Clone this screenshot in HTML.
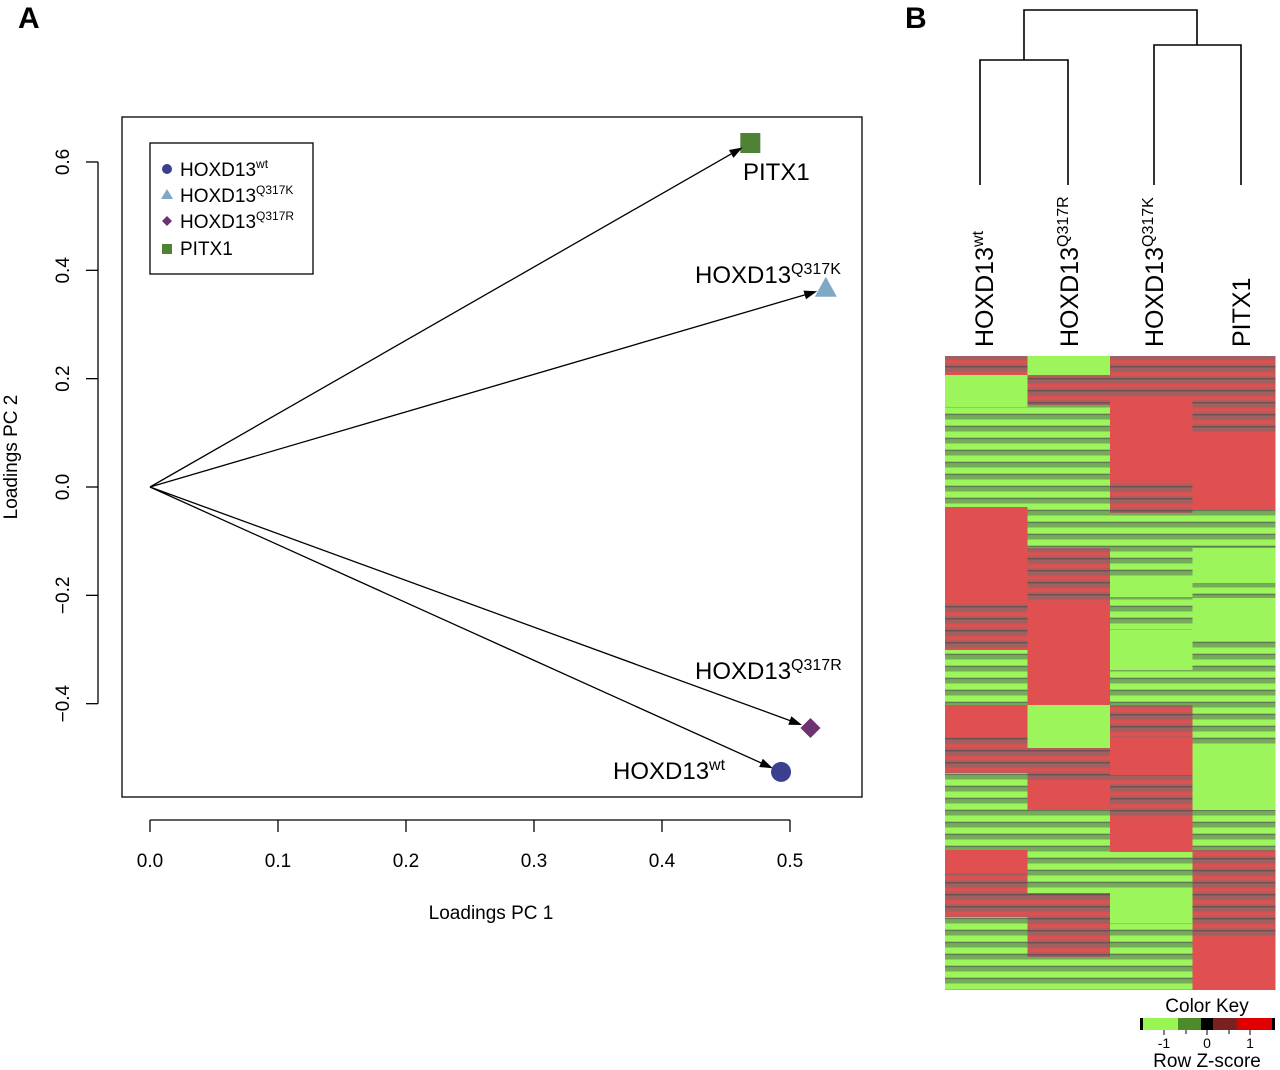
<!DOCTYPE html>
<html><head><meta charset="utf-8"><style>
body{margin:0;background:#fff}
svg{display:block;font-family:"Liberation Sans",Arial,sans-serif}
</style></head><body>
<svg id="fig" width="1280" height="1070" viewBox="0 0 1280 1070" xmlns="http://www.w3.org/2000/svg">
<defs>
<pattern id="pr" width="82" height="12" patternUnits="userSpaceOnUse"><rect width="82" height="12" fill="#b85a5a"/><rect y="0" width="82" height="4" fill="#d85252"/><rect y="6" width="82" height="1.5" fill="#6e5050"/><rect y="8" width="82" height="3" fill="#a06060"/></pattern>
<pattern id="pg" width="82" height="12" patternUnits="userSpaceOnUse"><rect width="82" height="12" fill="#88d058"/><rect y="0" width="82" height="5" fill="#9cf55a"/><rect y="6" width="82" height="1.5" fill="#607a55"/><rect y="8" width="82" height="3" fill="#74aa58"/></pattern>
</defs>
<text x="18" y="28" font-size="30" font-weight="bold">A</text>
<text x="905" y="28" font-size="30" font-weight="bold">B</text>
<rect x="122" y="117" width="740" height="680" fill="none" stroke="#000" stroke-width="1.3"/>
<g id="axes"></g><g id="arrows"></g>
<g>
<rect x="150" y="143" width="163" height="131" fill="#fff" stroke="#000" stroke-width="1.3"/>
<circle cx="167" cy="169" r="5" fill="#3b3f8f"/>
<text x="180" y="176" font-size="19">HOXD13<tspan font-size="12" dy="-8">wt</tspan></text>
<polygon points="167,189 173,199 161,199" fill="#7fa9c3"/>
<text x="180" y="202" font-size="19">HOXD13<tspan font-size="12" dy="-8">Q317K</tspan></text>
<polygon points="167,216 172,221 167,226 162,221" fill="#6e3272"/>
<text x="180" y="228" font-size="19">HOXD13<tspan font-size="12" dy="-8">Q317R</tspan></text>
<rect x="162" y="244" width="10" height="10" fill="#4f8234"/>
<text x="180" y="255" font-size="19">PITX1</text>
</g>
<text x="491" y="919" font-size="19" text-anchor="middle">Loadings PC 1</text>
<text transform="translate(17,457) rotate(-90)" font-size="19" text-anchor="middle">Loadings PC 2</text>
<g id="dendro" stroke="#000" stroke-width="1.6" fill="none">
<polyline points="980,185 980,60 1068,60 1068,185"/>
<polyline points="1154,185 1154,45 1241,45 1241,185"/>
<polyline points="1024,60 1024,10 1197,10 1197,45"/>
</g>
<g font-size="25">
<text transform="translate(993,347) rotate(-90)">HOXD13<tspan font-size="16" dy="-10">wt</tspan></text>
<text transform="translate(1078,347) rotate(-90)">HOXD13<tspan font-size="16" dy="-10">Q317R</tspan></text>
<text transform="translate(1163,347) rotate(-90)">HOXD13<tspan font-size="16" dy="-10">Q317K</tspan></text>
<text transform="translate(1250,347) rotate(-90)">PITX1</text>
</g>
<g id="heat"></g>
<g>
<text x="1207" y="1012" font-size="19" text-anchor="middle">Color Key</text>
<rect x="1140" y="1018" width="3" height="12" fill="#000"/>
<rect x="1143" y="1018" width="35" height="12" fill="#99f550"/>
<rect x="1178" y="1018" width="23" height="12" fill="#4d8a2a"/>
<rect x="1201" y="1018" width="12" height="12" fill="#000"/>
<rect x="1213" y="1018" width="24" height="12" fill="#7a2020"/>
<rect x="1237" y="1018" width="35" height="12" fill="#e00000"/>
<rect x="1272" y="1018" width="3" height="12" fill="#000"/>
<g stroke="#000" stroke-width="1"><line x1="1164" y1="1030" x2="1164" y2="1035"/><line x1="1186" y1="1030" x2="1186" y2="1034"/><line x1="1207" y1="1030" x2="1207" y2="1035"/><line x1="1229" y1="1030" x2="1229" y2="1034"/><line x1="1250" y1="1030" x2="1250" y2="1035"/></g>
<text x="1164" y="1048" font-size="14" text-anchor="middle">-1</text>
<text x="1207" y="1048" font-size="14" text-anchor="middle">0</text>
<text x="1250" y="1048" font-size="14" text-anchor="middle">1</text>
<text x="1207" y="1067" font-size="19" text-anchor="middle">Row Z-score</text>
</g>
</svg>
<script>
const ns="http://www.w3.org/2000/svg";
const xTicks=[0.0,0.1,0.2,0.3,0.4,0.5];
const yTicks=[-0.4,-0.2,0.0,0.2,0.4,0.6];
const sampleNames=["HOXD13wt","HOXD13Q317K","HOXD13Q317R","PITX1"];
const pc1=[0.493,0.528,0.516,0.469];
const pc2=[-0.526,0.366,-0.445,0.635];
const X=v=>150+v*1280, Y=v=>487-v*541.7;
function mk(t,a,p){const e=document.createElementNS(ns,t);for(const k in a)e.setAttribute(k,a[k]);(p||document.getElementById('fig')).appendChild(e);return e;}
const ax=document.getElementById('axes');
let xl=mk('line',{x1:X(0),y1:820,x2:X(0.5),y2:820,stroke:'#000','stroke-width':1.3},ax);


xTicks.forEach(v=>{mk('line',{x1:X(v),y1:820,x2:X(v),y2:832,stroke:'#000','stroke-width':1.3},ax);
 const t=mk('text',{x:X(v),y:867,'font-size':19,'text-anchor':'middle'},ax);t.textContent=v.toFixed(1);
 
 });
let yl=mk('line',{x1:98,y1:Y(-0.4),x2:98,y2:Y(0.6),stroke:'#000','stroke-width':1.3},ax);


yTicks.forEach(v=>{mk('line',{x1:86,y1:Y(v),x2:98,y2:Y(v),stroke:'#000','stroke-width':1.3},ax);
 const t=mk('text',{transform:`translate(69,${Y(v)}) rotate(-90)`,'font-size':19,'text-anchor':'middle'},ax);t.textContent=(v<0?'\u2212'+Math.abs(v).toFixed(1):v.toFixed(1));
 
 });
const ar=document.getElementById('arrows');
const cols=["#3b3f8f","#7fa9c3","#6e3272","#4f8234"];
pc1.forEach((v,i)=>{
 const x0=X(0),y0=Y(0),x1=X(v),y1=Y(pc2[i]);
 const dx=x1-x0,dy=y1-y0,L=Math.hypot(dx,dy),ux=dx/L,uy=dy/L;
 const ex=x1-ux*9,ey=y1-uy*9;
 const l=mk('line',{x1:x0,y1:y0,x2:ex-ux*8,y2:ey-uy*8,stroke:'#000','stroke-width':1.3},ar);
 
 
 let m;
 if(i==0)m=mk('circle',{cx:x1,cy:y1,r:10,fill:cols[0]},ar);
 else if(i==1)m=mk('polygon',{points:`${x1},${y1-12} ${x1+11},${y1+8} ${x1-11},${y1+8}`,fill:cols[1]},ar);
 else if(i==2)m=mk('polygon',{points:`${x1},${y1-10} ${x1+10},${y1} ${x1},${y1+10} ${x1-10},${y1}`,fill:cols[2]},ar);
 else m=mk('rect',{x:x1-10,y:y1-10,width:20,height:20,fill:cols[3]},ar);
 
 
 const px=-uy,py=ux;
 const h=mk('polygon',{points:`${ex},${ey} ${ex-ux*13+px*4.5},${ey-uy*13+py*4.5} ${ex-ux*13-px*4.5},${ey-uy*13-py*4.5}`,fill:'#000'},ar);
 
 
});
const lbl=[["HOXD13","wt",613,779],["HOXD13","Q317K",695,283],["HOXD13","Q317R",695,679],["PITX1","",743,180]];
lbl.forEach(a=>{const t=mk('text',{x:a[2],y:a[3],'font-size':24},ar);t.textContent=a[0];
 if(a[1]){const s=mk('tspan',{'font-size':16,dy:-9},t);s.textContent=a[1];}
 
 });
// heatmap segments: [endY(px row), zscore]; columns in display order wt, Q317R, Q317K, PITX1
const colWt=[[375,0.6],[407,-1],[507,-0.6],[603,1],[650,0.6],[705,-0.6],[737,1],[773,0.6],[850,-0.6],[873,1],[917,0.6],[990,-0.6]];
const colR=[[375,-1],[405,0.6],[548,-0.6],[603,0.6],[705,1],[748,-1],[780,0.6],[810,1],[893,-0.6],[957,0.6],[990,-0.6]];
const colK=[[398,0.6],[480,1],[513,0.6],[577,-0.6],[597,-1],[630,-0.6],[670,-1],[705,-0.6],[737,0.6],[775,1],[817,0.6],[852,1],[892,-0.6],[923,-1],[990,-0.6]];
const colP=[[432,0.6],[510,1],[548,-0.6],[583,-1],[598,-0.6],[640,-1],[670,-0.6],[747,-0.6],[810,-1],[850,-0.6],[937,0.6],[990,1]];
const hm=[colWt,colR,colK,colP];
const hg=document.getElementById('heat');
const cw=82.5;
hm.forEach((col,ci)=>{let y0=356;col.forEach(s=>{
 const f=s[1]>=0.9?'#e05050':s[1]<=-0.9?'#9cf55a':s[1]>0?'url(#pr)':'url(#pg)';
 const r=mk('rect',{x:945+ci*cw,y:y0,width:cw+0.5,height:s[0]-y0,fill:f},hg);
 
 
 y0=s[0];});});
</script>
</body></html>
